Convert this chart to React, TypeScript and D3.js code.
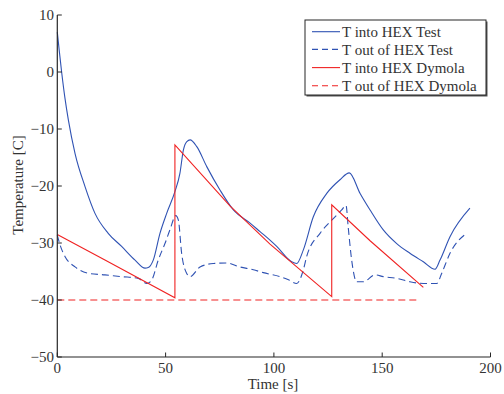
import React from "react";
import * as d3 from "d3";

const blueSolidT = [0, 1, 2, 3.5, 5.1, 8.2, 12.8, 17.4, 23.5, 29.7, 35.9, 40.5, 42, 44.3, 47.4, 50.5, 54.3, 56.6, 58.2, 59.8, 61.3, 64.4, 69, 75.1, 81.3, 89, 93.6, 98.2, 101.3, 108.2, 110.5, 113.6, 118.2, 124.4, 130.5, 134.8, 139.8, 144.4, 150.5, 156.7, 162.8, 169, 174.4, 176.7, 181.3, 190.5];
const blueSolidV = [7, 3.4, 0, -4.5, -8.4, -14.3, -20.1, -24.8, -28.3, -30.6, -33, -34.4, -34.3, -33, -28.3, -24.8, -21, -17.8, -13.7, -12.2, -11.9, -13.1, -16.6, -20.7, -24.2, -26.5, -28, -29.5, -30.6, -33.3, -33.6, -31.2, -25.4, -21.3, -18.9, -17.7, -21.3, -24.2, -27.7, -30.1, -31.8, -33.3, -34.6, -33, -28.9, -23.9];

const blueDashT = [0, 1.5, 3.6, 8.2, 14.3, 22, 29.7, 37.4, 41.3, 43.6, 46.6, 49.7, 52, 54.7, 55.9, 57.4, 59.7, 61.3, 65.9, 72, 78.2, 84.3, 90.5, 95.1, 102.8, 107, 110.5, 113.6, 115.1, 121.3, 126.7, 131.3, 133.3, 134.3, 135.9, 138.2, 141.3, 146.7, 150.5, 156.7, 162.8, 169, 175.2, 177.5, 181.3, 189];
const blueDashV = [-28.6, -30.6, -32.4, -34.2, -35.3, -35.6, -35.9, -36.2, -37.1, -36.5, -33, -30.1, -27.7, -25.2, -26, -31.8, -35.3, -35.9, -34.2, -33.6, -33.5, -34.2, -34.7, -35.2, -35.9, -36.5, -37.1, -34.7, -32.4, -28.3, -26, -24.2, -23.4, -27.2, -33, -36.8, -36.8, -35.6, -35.9, -36.2, -36.8, -37.1, -37.1, -35.3, -31.8, -28.3];

const redSolidT = [0, 22, 54.3, 54.3, 79.7, 98.2, 126.7, 126.7, 144.4, 169];
const redSolidV = [-28.5, -33, -39.6, -12.8, -23.5, -30.2, -39.4, -23.3, -29.6, -37.8];

const redDashT = [0, 167];
const redDashV = [-40, -40];

const xTicks = [0, 50, 100, 150, 200];
const yTicks = [-50, -40, -30, -20, -10, 0, 10];

const legendLabels = ["T into HEX Test", "T out of HEX Test", "T into HEX Dymola", "T out of HEX Dymola"];

const BLUE = "#2f52b3";
const RED = "#f02222";
const AXIS = "#262626";
const FONT = "'Liberation Serif', 'Times New Roman', serif";

export default function App() {
  const x = d3.scaleLinear().domain([0, 200]).range([57.3, 490.5]);
  const y = d3.scaleLinear().domain([-50, 10]).range([357, 15]);

  const smooth = d3
    .line<[number, number]>()
    .x((d) => x(d[0]))
    .y((d) => y(d[1]))
    .curve(d3.curveMonotoneX);
  const straight = d3
    .line<[number, number]>()
    .x((d) => x(d[0]))
    .y((d) => y(d[1]));

  const zip = (a: number[], b: number[]) => a.map((t, i) => [t, b[i]] as [number, number]);

  const series = [
    { d: smooth(zip(blueSolidT, blueSolidV)), color: BLUE, dash: undefined },
    { d: smooth(zip(blueDashT, blueDashV)), color: BLUE, dash: "7,4" },
    { d: straight(zip(redSolidT, redSolidV)), color: RED, dash: undefined },
    { d: straight(zip(redDashT, redDashV)), color: RED, dash: "7,4" },
  ];

  const x0 = x.range()[0];
  const x1 = x.range()[1];
  const yb = y.range()[0];
  const yt = y.range()[1];

  const lg = { x: 305, y: 20, w: 181, h: 75 };
  const rowY = [31.7, 49.4, 67.6, 85.8];

  return (
    <svg
      width={504}
      height={394}
      style={{ position: "absolute", left: 0, top: 0, background: "#fff" }}
      fontFamily={FONT}
      fontSize={15}
    >
      <rect width={504} height={394} fill="#fff" />
      {series.map((s, i) => (
        <path key={i} d={s.d || ""} fill="none" stroke={s.color} strokeWidth={1.1} strokeDasharray={s.dash} />
      ))}
      {/* axes */}
      <line x1={x0} x2={x0} y1={yt} y2={yb} stroke={AXIS} strokeWidth={1.2} />
      <line x1={x0} x2={x1} y1={yb} y2={yb} stroke={AXIS} strokeWidth={1.2} />
      {xTicks.map((t) => (
        <g key={"x" + t}>
          <line x1={x(t)} x2={x(t)} y1={yb} y2={yb - 4.5} stroke={AXIS} strokeWidth={1} />
          <text x={x(t)} y={373} textAnchor="middle" fill="#333">
            {t}
          </text>
        </g>
      ))}
      {yTicks.map((v) => (
        <g key={"y" + v}>
          <line x1={x0} x2={x0 + 4.5} y1={y(v)} y2={y(v)} stroke={AXIS} strokeWidth={1} />
          <text x={54} y={y(v)} dy="0.35em" textAnchor="end" fill="#333">
            {v < 0 ? "\u2212" + Math.abs(v) : String(v)}
          </text>
        </g>
      ))}
      <text x={273} y={389} textAnchor="middle" fill="#333">
        Time [s]
      </text>
      <text transform="translate(23,185) rotate(-90)" textAnchor="middle" fill="#333">
        Temperature [C]
      </text>
      {/* legend */}
      <rect x={lg.x + 1.5} y={lg.y + 1.5} width={lg.w} height={lg.h} fill="#555" />
      <rect x={lg.x} y={lg.y} width={lg.w} height={lg.h} fill="#fff" stroke={AXIS} strokeWidth={1} />
      {legendLabels.map((lab, i) => (
        <g key={lab}>
          <line
            x1={312}
            x2={340}
            y1={rowY[i]}
            y2={rowY[i]}
            stroke={series[i].color}
            strokeWidth={1.1}
            strokeDasharray={series[i].dash ? "6,4" : undefined}
          />
          <text x={342} y={rowY[i]} dy="0.35em" fill="#333">
            {lab}
          </text>
        </g>
      ))}
    </svg>
  );
}
